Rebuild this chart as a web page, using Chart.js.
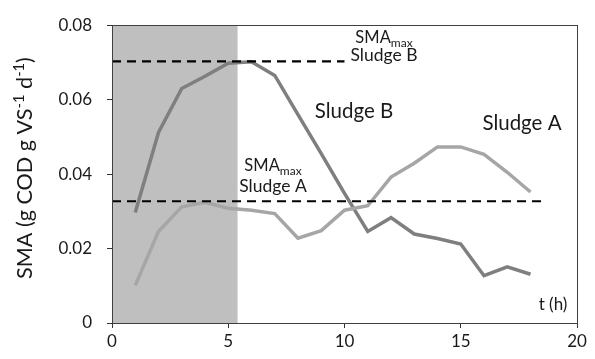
<!DOCTYPE html>
<html>
<head>
<meta charset="utf-8">
<script src="https://cdn.jsdelivr.net/npm/chart.js@4"></script>
<style>
  html, body { margin: 0; padding: 0; background: #fff; }
  #wrap { width: 595px; height: 359px; position: relative; }
</style>
</head>
<body>
<div id="wrap"><canvas id="c" width="595" height="359"></canvas></div>
<script>
// Sampling times (h)
const hours = [1, 2, 3, 4, 5, 6, 7, 8, 9, 10, 11, 12, 13, 14, 15, 16, 17, 18];
// Specific methanogenic activity, g COD g VS-1 d-1
const sludgeA = [0.0101, 0.0246, 0.0312, 0.0324, 0.0308, 0.0303, 0.0294, 0.0228, 0.0248, 0.0303,
                 0.0315, 0.0392, 0.0429, 0.0473, 0.0473, 0.0453, 0.0405, 0.0352];
const sludgeB = [0.0297, 0.0512, 0.0630, 0.0663, 0.0698, 0.0702, 0.0665, 0.0560, 0.0455, 0.0348,
                 0.0246, 0.0283, 0.0239, 0.0227, 0.0212, 0.0127, 0.0151, 0.0131];
// Maximum activities and the extent of each reference line
const smaMaxA = 0.0327, smaMaxAEnd = 18.7;
const smaMaxB = 0.0703, smaMaxBEnd = 10;
// Feeding period (shaded)
const shadeEnd = 5.4;
const xTicks = [0, 5, 10, 15, 20];
const yTicks = [0, 0.02, 0.04, 0.06, 0.08];

const FONT = "Lato, 'Open Sans', sans-serif";
const TXT = '#1a1a1a';

const pts = (xs, ys) => xs.map((x, i) => ({ x: x, y: ys[i] }));

const decor = {
  id: 'decor',
  beforeDatasetsDraw(chart) {
    const { ctx, chartArea: a, scales: { x } } = chart;
    ctx.save();
    ctx.fillStyle = '#bfbfbf';
    const x0 = x.getPixelForValue(0), x1 = x.getPixelForValue(shadeEnd);
    ctx.fillRect(x0, a.top, x1 - x0, a.bottom - a.top);
    ctx.restore();
  },
  afterDatasetsDraw(chart) {
    const { ctx, chartArea: a } = chart;
    ctx.save();
    // frame
    ctx.strokeStyle = '#404040';
    ctx.lineWidth = 1;
    ctx.strokeRect(Math.round(a.left) + 0.5, Math.round(a.top) + 0.5,
                   Math.round(a.right - a.left), Math.round(a.bottom - a.top));

    ctx.fillStyle = TXT;
    ctx.textBaseline = 'alphabetic';
    const smaMax = (cx, cy) => {
      ctx.font = '16.5px ' + FONT;
      const w1 = ctx.measureText('SMA').width;
      ctx.font = '12px ' + FONT;
      const w2 = ctx.measureText('max').width;
      const left = cx - (w1 + w2) / 2;
      ctx.font = '16.5px ' + FONT;
      ctx.textAlign = 'left';
      ctx.fillText('SMA', left, cy);
      ctx.font = '12px ' + FONT;
      ctx.fillText('max', left + w1, cy + 4);
    };
    const label = (t, cx, cy, size) => {
      ctx.font = size + 'px ' + FONT;
      ctx.textAlign = 'center';
      ctx.fillText(t, cx, cy);
    };
    smaMax(384, 43);
    label('Sludge B', 384, 61, 17.5);
    smaMax(273, 171);
    label('Sludge A', 273, 192, 17.5);
    label('Sludge B', 354, 118, 20.5);
    label('Sludge A', 522, 130, 20.5);
    label('t (h)', 553, 310, 17);

    // y axis title with superscripts, fitted to its length
    const parts = [['SMA (g COD g VS', 1, 0], ['-1', 0.68, -6], [' d', 1, 0], ['-1', 0.68, -6], [')', 1, 0]];
    const base = 16;
    let total = 0;
    parts.forEach(p => { ctx.font = (base * p[1]) + 'px ' + FONT; total += ctx.measureText(p[0]).width; });
    const size = base * 222 / total;
    ctx.translate(19, 168);
    ctx.rotate(-Math.PI / 2);
    let px = -111;
    ctx.textAlign = 'left';
    ctx.textBaseline = 'middle';
    parts.forEach(p => {
      ctx.font = (size * p[1]) + 'px ' + FONT;
      ctx.fillText(p[0], px, p[2] + 6);
      px += ctx.measureText(p[0]).width;
    });
    ctx.restore();
  }
};

new Chart(document.getElementById('c'), {
  type: 'scatter',
  data: {
    datasets: [
      { label: 'SMAmax Sludge B', data: [{ x: 0, y: smaMaxB }, { x: smaMaxBEnd, y: smaMaxB }],
        showLine: true, borderColor: '#000', borderWidth: 2.2, borderDash: [9, 6], pointRadius: 0, order: 0 },
      { label: 'SMAmax Sludge A', data: [{ x: 0, y: smaMaxA }, { x: smaMaxAEnd, y: smaMaxA }],
        showLine: true, borderColor: '#000', borderWidth: 2.2, borderDash: [9, 6], pointRadius: 0, order: 0 },
      { label: 'Sludge B', data: pts(hours, sludgeB), showLine: true, borderColor: '#7f7f7f',
        borderWidth: 3.5, pointRadius: 0, order: 2 },
      { label: 'Sludge A', data: pts(hours, sludgeA), showLine: true, borderColor: '#a6a6a6',
        borderWidth: 3.5, pointRadius: 0, order: 1 }
    ]
  },
  options: {
    responsive: false,
    animation: false,
    events: [],
    layout: { padding: { top: 20, right: 18, left: 0, bottom: 0 } },
    plugins: { legend: { display: false }, tooltip: { enabled: false } },
    scales: {
      x: {
        type: 'linear', min: 0, max: 20,
        afterBuildTicks: s => { s.ticks = xTicks.map(v => ({ value: v })); },
        afterFit: s => { s.height = 36; },
        grid: { drawOnChartArea: false, drawTicks: true, tickLength: 5, color: '#333' },
        border: { color: '#333', width: 1 },
        ticks: { color: TXT, font: { family: FONT, size: 17 }, padding: 3, maxRotation: 0 }
      },
      y: {
        min: 0, max: 0.08,
        afterBuildTicks: s => { s.ticks = yTicks.map(v => ({ value: v })); },
        afterFit: s => { s.width = 112; },
        grid: { drawOnChartArea: false, drawTicks: true, tickLength: 5, color: '#333' },
        border: { color: '#333', width: 1 },
        ticks: { color: TXT, font: { family: FONT, size: 17 }, padding: 15,
                 callback: v => String(+v.toFixed(2)) }
      }
    }
  },
  plugins: [decor]
});
</script>
</body>
</html>
